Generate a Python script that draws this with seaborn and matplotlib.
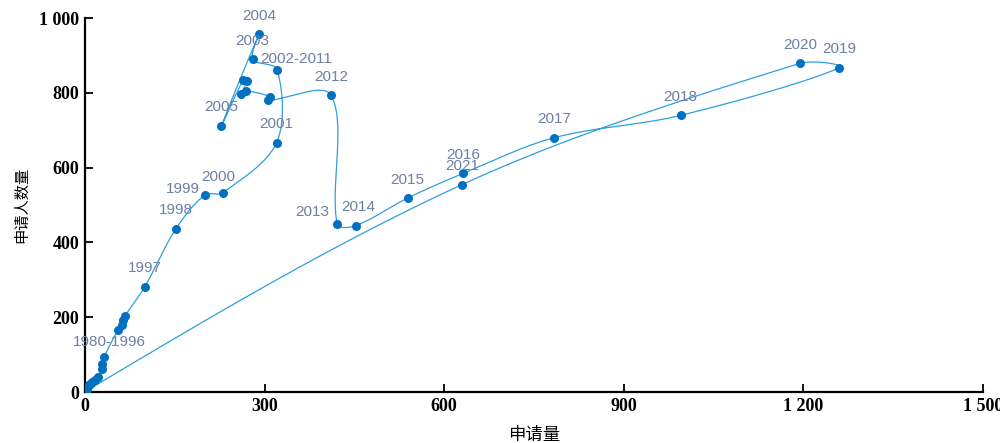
import numpy as np
import pandas as pd
import matplotlib
matplotlib.use("Agg")
import matplotlib.pyplot as plt
import seaborn as sns
from matplotlib.ticker import FuncFormatter

# ---------------- data ----------------
years = list(range(1980, 2023))
applications = [1, 1, 2, 3, 4, 6, 8, 12, 16, 22, 28, 28, 32, 55, 61, 64, 67,
                100, 152, 200, 230, 320,
                321, 280, 291, 228, 264, 270, 261, 269, 309, 305,
                411, 421, 452, 539, 632, 783, 995, 1260, 1194, 630, 1]
applicants = [1, 2, 4, 8, 12, 18, 22, 28, 33, 40, 62, 76, 95, 166, 179, 192, 204,
              282, 437, 527, 533, 667,
              862, 890, 957, 712, 834, 832, 796, 805, 790, 780,
              794, 450, 445, 519, 585, 680, 740, 867, 879, 555, 2]

label_years = [1991, 1997, 1998, 1999, 2000, 2001, 2002, 2003, 2004, 2005,
               2012, 2013, 2014, 2015, 2016, 2017, 2018, 2019, 2020, 2021]
label_texts = ["1980-1996", "1997", "1998", "1999", "2000", "2001", "2002-2011",
               "2003", "2004", "2005", "2012", "2013", "2014", "2015", "2016",
               "2017", "2018", "2019", "2020", "2021"]

x_ticks = [0, 300, 600, 900, 1200, 1500]
y_ticks = [0, 200, 400, 600, 800, 1000]

# label offsets in pixels (dx, dy up) -- styling only
label_offsets = {1991: (8, 22), 1999: (-22, 6), 2000: (-4, 16), 2002: (19, 11),
                 2013: (-25, 12), 2014: (3, 19)}

# ---------------- smooth curve (chord-weighted Bezier, in pixel space) ----------------
SX, SY = 898 / 1500, 374 / 1000  # pixels per data unit


def smooth_curve(xs, ys, n=40, k=1 / 3):
    P = np.column_stack([np.asarray(xs) * SX, np.asarray(ys) * SY]).astype(float)
    m = len(P)
    out_h = np.zeros_like(P)
    in_h = np.zeros_like(P)
    for i in range(1, m - 1):
        d = P[i + 1] - P[i - 1]
        lp = np.linalg.norm(P[i] - P[i - 1])
        ln = np.linalg.norm(P[i + 1] - P[i])
        s = lp + ln
        out_h[i] = d * (ln / s) * k
        in_h[i] = d * (lp / s) * k
    t = np.linspace(0, 1, n, endpoint=False)[:, None]
    pts = []
    for i in range(m - 1):
        p1, p2 = P[i], P[i + 1]
        c1 = p1 + out_h[i]
        c2 = p2 - in_h[i + 1]
        if i == 0:
            c1 = (p1 + c2) / 2
        if i == m - 2:
            c2 = (p2 + c1) / 2
        seg = ((1 - t) ** 3 * p1 + 3 * (1 - t) ** 2 * t * c1 +
               3 * (1 - t) * t ** 2 * c2 + t ** 3 * p2)
        pts.append(seg)
    pts.append(P[-1][None, :])
    pts = np.vstack(pts)
    return pts[:, 0] / SX, pts[:, 1] / SY


df = pd.DataFrame({"year": years, "x": applications, "y": applicants})
cx, cy = smooth_curve(df["x"].values, df["y"].values)
curve_df = pd.DataFrame({"x": cx, "y": cy})

# ---------------- plot ----------------
sns.set_theme(style="white")
plt.rcParams["font.family"] = ["Liberation Sans", "DejaVu Sans"]

fig = plt.figure(figsize=(10, 4.43), dpi=100)
ax = fig.add_axes([0.085, 0.115, 0.898, 0.844])

sns.lineplot(data=curve_df, x="x", y="y", sort=False, estimator=None,
             color="#2E9FDE", linewidth=0.9, ax=ax, zorder=2)
sns.scatterplot(data=df, x="x", y="y", color="#0070C0", s=42, linewidth=0,
                ax=ax, zorder=3)

px2pt = 0.72
for yr, txt in zip(label_years, label_texts):
    row = df[df["year"] == yr].iloc[0]
    dx, dy = label_offsets.get(yr, (0, 18.5))
    ax.annotate(txt, (row["x"], row["y"]), xytext=(dx * px2pt, dy * px2pt),
                textcoords="offset points", ha="center", va="center",
                fontsize=11, color="#6E7FA3", family=["Liberation Sans", "DejaVu Sans"],
                zorder=4)

ax.set_xlim(0, 1500)
ax.set_ylim(0, 1000)
ax.set_xticks(x_ticks)
ax.set_yticks(y_ticks)
fmt = FuncFormatter(lambda v, p: f"{int(v):,}".replace(",", " "))
ax.xaxis.set_major_formatter(fmt)
ax.yaxis.set_major_formatter(fmt)
for lab in ax.get_xticklabels() + ax.get_yticklabels():
    lab.set_family(["Liberation Serif", "DejaVu Serif"])
    lab.set_fontweight("bold")
    lab.set_fontsize(13)
    lab.set_color("black")

ax.tick_params(axis="both", direction="in", length=6, width=1.3, colors="black",
               pad=4, left=True, bottom=True)
for side in ["top", "right"]:
    ax.spines[side].set_visible(False)
for side in ["left", "bottom"]:
    ax.spines[side].set_color("black")
    ax.spines[side].set_linewidth(1.6)

ax.set_xlabel("申请量", family=["Noto Sans CJK SC", "DejaVu Sans"], fontsize=12.5,
              color="black", labelpad=8)
ax.set_ylabel("申请人数量", family=["Noto Sans CJK SC", "DejaVu Sans"], fontsize=11,
              color="black", labelpad=7)
ax.grid(False)
ax.set_facecolor("white")
fig.patch.set_facecolor("white")

fig.savefig("out.png", dpi=100, facecolor="white")
